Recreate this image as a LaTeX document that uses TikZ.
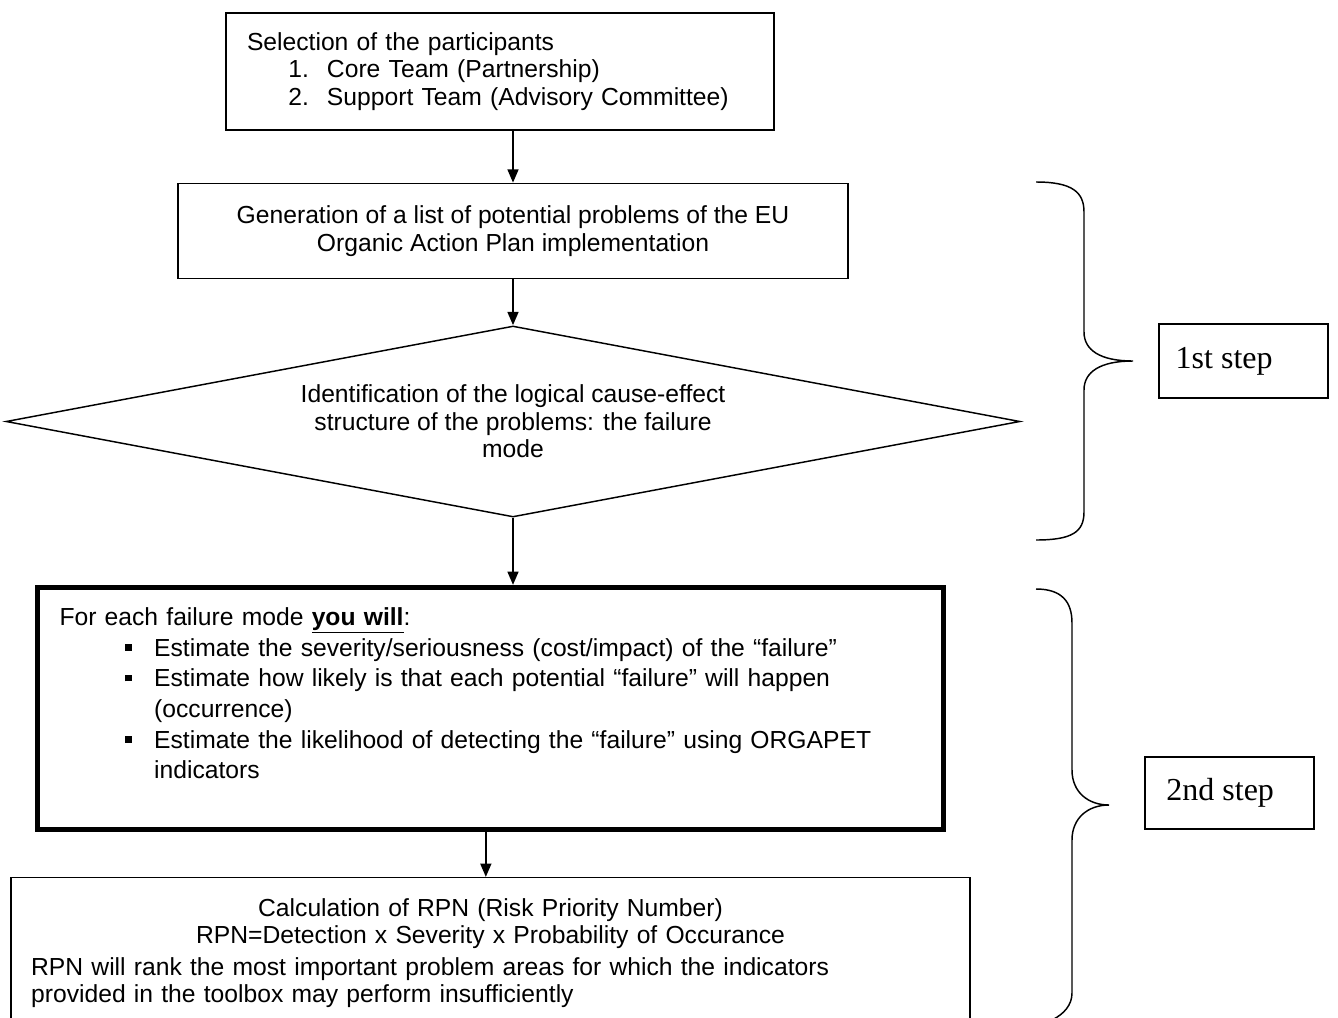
\documentclass[tikz,border=0pt]{standalone}
\usepackage{fontspec}
\setmainfont{Liberation Sans}
\newfontfamily\stepfont{Liberation Serif}
\usetikzlibrary{shapes.geometric,arrows.meta}
\tikzset{
  every node/.style={font=\fontsize{18.5}{20.5}\selectfont},
  flowbox/.style={draw,line width=1.1pt,inner sep=0pt},
  boldbox/.style={draw,line width=3.8pt,inner sep=0pt},
  stepbox/.style={draw,line width=1.1pt,inner sep=0pt,font=\stepfont\fontsize{24}{26}\selectfont},
  flowarrow/.style={line width=1.8pt,-{Triangle[length=10pt,width=8pt]}},
  curly/.style={line width=1.1pt},
}
\newcommand{\sqbullet}{\raisebox{4pt}{\rule{5pt}{5pt}}}
\begin{document}
\begin{tikzpicture}[x=0.75pt,y=-0.75pt]
\useasboundingbox (0,0) rectangle (1338,1017);
\clip (0,0) rectangle (1338,1017);
% participants
\node[flowbox,minimum width=411pt,minimum height=87.75pt,text width=379.5pt,align=left] (parts) at (500,71.5)
  {Selection of the participants\\
   \hspace*{31pt}\makebox[29pt][l]{1.}Core Team (Partnership)\\
   \hspace*{31pt}\makebox[29pt][l]{2.}Support Team (Advisory Committee)};
% problems
\node[flowbox,minimum width=502.5pt,minimum height=71.25pt,align=center] (problems) at (513,231)
  {Generation of a list of potential problems of the EU\\Organic Action Plan implementation};
% failure mode
\node[flowbox,diamond,aspect=5.31,minimum width=760.5pt,minimum height=143.25pt,align=center] (cause) at (513,421.5)
  {Identification of the logical cause-effect\\structure of the problems: the failure\\mode};
% what you will do
\node[boldbox,minimum width=679.5pt,minimum height=181.5pt,text width=646.5pt,align=left,
      font=\fontsize{18.5}{23}\selectfont] (fmode) at (490.5,708.5)
  {For each failure mode \underline{\textbf{you will}}:\\
   \hspace*{49pt}\makebox[22pt][l]{\sqbullet}Estimate the severity/seriousness (cost/impact) of the “failure”\\
   \hspace*{49pt}\makebox[22pt][l]{\sqbullet}Estimate how likely is that each potential “failure” will happen\\
   \hspace*{71pt}(occurrence)\\
   \hspace*{49pt}\makebox[22pt][l]{\sqbullet}Estimate the likelihood of detecting the “failure” using ORGAPET\\
   \hspace*{71pt}indicators\\\mbox{}};
% RPN
\node[flowbox,minimum width=719.25pt,text width=689pt,inner xsep=15pt,inner ysep=15.5pt,align=left,anchor=north] (rpn) at (490.5,877)
  {\makebox[\linewidth][c]{Calculation of RPN (Risk Priority Number)}\\
   \makebox[\linewidth][c]{RPN=Detection x Severity x Probability of Occurance}\\[3.5pt]
   RPN will rank the most important problem areas for which the indicators\\
   provided in the toolbox may perform insufficiently\\[30pt]\mbox{}};
% connectors
\draw[flowarrow] (parts.south -| problems.north) -- (problems.north);
\draw[flowarrow] (problems) -- (cause);
\draw[flowarrow] (cause.south) -- (cause.south |- fmode.north);
\draw[flowarrow] ([xshift=-3.5pt]fmode.south) -- ([xshift=-3.5pt]fmode.south |- rpn.north);
% steps
\node[stepbox,minimum width=126.75pt,minimum height=55.5pt] (step1) at (1243.5,361) {1st step\hspace*{29pt}};
\node[stepbox,minimum width=126.75pt,minimum height=54pt] (step2) at (1229.5,793) {2nd step\hspace*{14pt}};
\draw[curly] (1036,182) .. controls (1072,182) and (1084,192) .. (1084,212) -- (1084,332)
  .. controls (1084,350) and (1100,361) .. (1133,361)
  .. controls (1100,361) and (1084,372) .. (1084,390) -- (1084,512)
  .. controls (1084,532) and (1072,540) .. (1036,540);
\draw[curly] (1036,589) .. controls (1062,589) and (1072,602) .. (1072,623) -- (1072,770)
  .. controls (1072,792) and (1088,805) .. (1109,805)
  .. controls (1088,805) and (1072,818) .. (1072,840) -- (1072,993)
  .. controls (1072,1005) and (1064,1014) .. (1052,1020);
\end{tikzpicture}
\end{document}
